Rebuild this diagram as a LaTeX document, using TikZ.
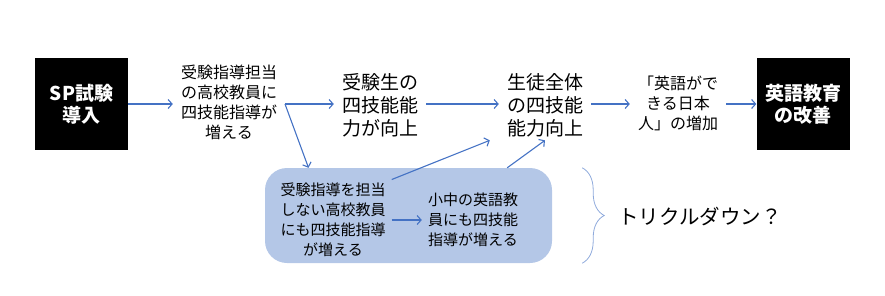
\documentclass[tikz,border=0pt]{standalone}
\usepackage{fontspec}
\setmainfont{Noto Sans CJK JP}
\usepackage{tikz}
\usetikzlibrary{positioning,arrows.meta,decorations.pathreplacing}
\definecolor{arrowblue}{RGB}{68,114,196}
\definecolor{boxblue}{RGB}{180,199,231}
\definecolor{bracegray}{RGB}{143,170,220}

\begin{document}
\begin{tikzpicture}[x=1pt,y=-1pt,
  blackbox/.style={fill=black, text=white, minimum width=93pt, minimum height=92pt,
    align=center, font=\fontsize{19}{22}\selectfont\bfseries},
  smalltext/.style={align=center, inner xsep=8pt, font=\fontsize{16}{20}\selectfont},
  bigtext/.style={align=center, inner xsep=8pt, font=\fontsize{19}{23}\selectfont},
  lowtext/.style={align=center, inner xsep=6pt, font=\fontsize{15}{20}\selectfont},
  arr/.style={draw=arrowblue, line width=1.1pt, -{Straight Barb[length=4pt,width=9pt]}}]
  \useasboundingbox (0,0) rectangle (885,295);
  \node[blackbox] (SP) at (81.5,104) {SP試験\\導入};
  \node[smalltext] (T1) at (229,102) {受験指導担当\\の高校教員に\\四技能指導が\\増える};
  \node[bigtext] (T2) at (380,105) {受験生の\\四技能能\\力が向上};
  \node[bigtext] (T3) at (545,105) {生徒全体\\の四技能\\能力向上};
  \node[smalltext] (T4) at (678,103) {「英語がで\\きる日本\\人」の増加};
  \node[blackbox] (E) at (803,104) {英語教育\\の改善};
  \node[fill=boxblue, rounded corners=22pt, minimum width=287pt, minimum height=95pt] (BOT) at (408.5,215.5) {};
  \node[lowtext] (B1) at (333,220) {受験指導を担当\\しない高校教員\\にも四技能指導\\が増える};
  \node[lowtext] (B2) at (473,220) {小中の英語教\\員にも四技能\\指導が増える};
  \node[font=\fontsize{20.5}{24}\selectfont] (TD) at (700,217) {トリクルダウン？};
  \coordinate (BR) at (285,104);
  \draw[arr] (SP) -- (T1.west |- SP);
  \draw[arr] (BR) -- (T2.west |- BR);
  \draw[arr] (BR) -- ([xshift=-100pt]BOT.north);
  \draw[arr] (T2.east |- BR) -- (T3.west |- BR);
  \draw[arr] (T3.east |- BR) -- (T4.west |- BR);
  \draw[arr] (T4.east |- BR) -- (E.west |- BR);
  \draw[arr] (B1.east) -- (B2.west);
  \draw[arr] (B1.north east) -- ([xshift=-9pt]T3.south west);
  \draw[arr] ([xshift=-17pt]B2.north east |- BOT.north) -- (T3.south);
  \draw[bracegray, line width=0.8pt, decorate, decoration={brace, amplitude=22pt, aspect=0.5}]
    ([xshift=30pt]BOT.north east) -- ([xshift=30pt]BOT.south east);
\end{tikzpicture}
\end{document}
